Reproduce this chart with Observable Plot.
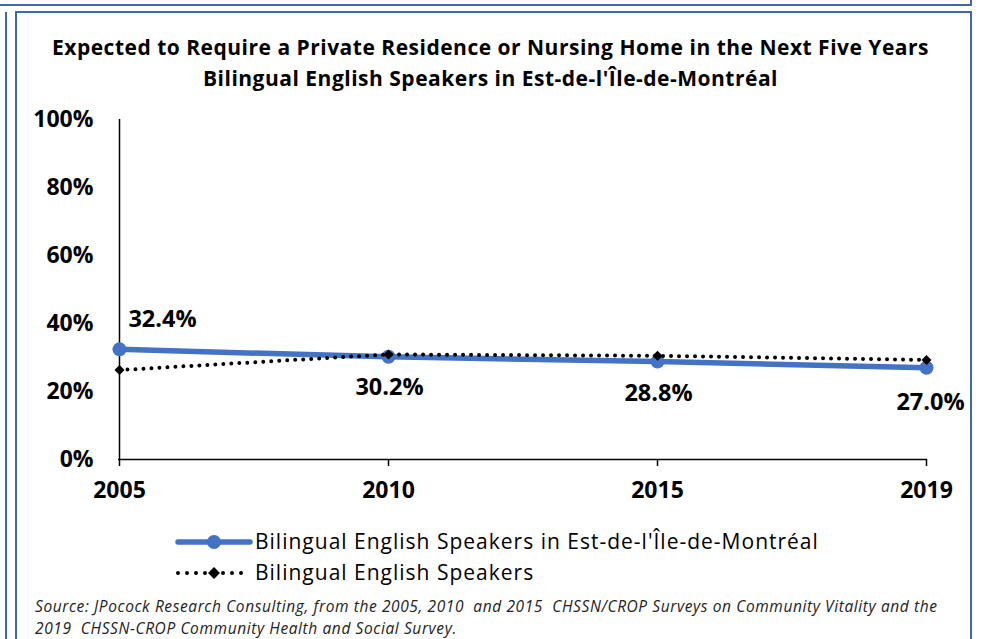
<!DOCTYPE html>
<html>
<head>
<meta charset="utf-8">
<script src="https://cdn.jsdelivr.net/npm/d3@7"></script>
<script src="https://cdn.jsdelivr.net/npm/@observablehq/plot@0.6"></script>
<style>
  html, body { margin: 0; padding: 0; background: #fff; }
  body { width: 981px; height: 639px; position: relative; overflow: hidden; font-family: "Open Sans", "Liberation Sans", sans-serif; color: #000; }
  .frame { position: absolute; border: 2px solid #4068b0; box-sizing: border-box; }
  #title { position: absolute; left: 0; width: 981px; top: 32px; text-align: center; font-weight: bold; font-size: 21px; letter-spacing: 0.5px; line-height: 31px; }
  #chart { position: absolute; left: 0; top: 100px; }
  #legend { position: absolute; left: 0; top: 522px; width: 981px; height: 70px; }
  #caption { position: absolute; left: 35px; top: 595px; font-style: italic; font-size: 15.5px; letter-spacing: 0.6px; line-height: 22px; color: #222; white-space: nowrap; }
</style>
</head>
<body>
<div class="frame" style="left:-10px; top:-20px; width:982px; height:26px;"></div>
<div class="frame" style="left:3px; top:12px; width:4px; height:640px; border-width:0 2px 0 0;"></div>
<div class="frame" style="left:15px; top:11px; width:957px; height:650px;"></div>
<div id="title">Expected to Require a Private Residence or Nursing Home in the Next Five Years<br>Bilingual English Speakers in Est-de-l'Île-de-Montréal</div>
<div id="chart"></div>
<div id="legend"></div>
<div id="caption">Source: JPocock Research Consulting, from the 2005, 2010 &nbsp;and 2015 &nbsp;CHSSN/CROP Surveys on Community Vitality and the<br>2019 &nbsp;CHSSN-CROP Community Health and Social Survey.</div>
<script>
const years = ["2005", "2010", "2015", "2019"];
const estValues = [32.4, 30.2, 28.8, 27.0];
const bilingualValues = [26.3, 30.9, 30.5, 29.3];
const yTicks = [0, 20, 40, 60, 80, 100];
const seriesNames = ["Bilingual English Speakers in Est-de-l'Île-de-Montréal", "Bilingual English Speakers"];

const est = years.map((y, i) => ({year: y, value: estValues[i]}));
const bil = years.map((y, i) => ({year: y, value: bilingualValues[i]}));

const blue = "#4472C4";
const labelOffsets = [[43, -30], [1, 31], [1, 32], [4, 35]];
const labelMarks = est.map((d, i) => Plot.text([d], {
  x: "year", y: "value", text: v => v.value.toFixed(1) + "%",
  dx: labelOffsets[i][0], dy: labelOffsets[i][1],
  fontSize: 23.5, fontWeight: "bold", fill: "#000"
}));

const plot = Plot.plot({
  width: 981,
  height: 410,
  marginTop: 19,
  marginBottom: 51,
  marginLeft: 118,
  marginRight: 54,
  style: {fontFamily: "'Open Sans', 'Liberation Sans', sans-serif", color: "#000", background: "transparent", overflow: "visible"},
  x: {type: "point", domain: years, padding: 0},
  y: {domain: [0, 100]},
  marks: [
    Plot.axisY({ticks: yTicks, tickFormat: d => d + "%", tickSize: 0, tickPadding: 25, fontSize: 23, fontWeight: "bold", label: null}),
    Plot.axisX({tickSize: 7, tickPadding: 15, fontSize: 23, fontWeight: "bold", label: null, stroke: "#000", strokeWidth: 1.5}),
    Plot.ruleY([0], {stroke: "#000", strokeWidth: 1.5}),
    Plot.ruleX([years[0]], {y1: 0, y2: 100, stroke: "#000", strokeWidth: 1.5}),
    Plot.line(est, {x: "year", y: "value", stroke: blue, strokeWidth: 5.5}),
    Plot.dot(est, {x: "year", y: "value", fill: blue, r: 7}),
    Plot.line(bil, {x: "year", y: "value", stroke: "#000", strokeWidth: 4, strokeDasharray: "0 8", strokeLinecap: "round"}),
    Plot.dot(bil, {x: "year", y: "value", fill: "#000", symbol: "diamond2", r: 4.5}),
    ...labelMarks
  ]
});
document.getElementById("chart").appendChild(plot);
</script>
<script>
// Legend
(function() {
  const svg = d3.select("#legend").append("svg").attr("width", 981).attr("height", 70);
  const x0 = 178, x1 = 250;
  svg.append("line").attr("x1", x0).attr("x2", x1).attr("y1", 20).attr("y2", 20).attr("stroke", blue).attr("stroke-width", 5.5).attr("stroke-linecap", "round");
  svg.append("circle").attr("cx", 214).attr("cy", 20).attr("r", 7).attr("fill", blue);
  svg.append("line").attr("x1", x0).attr("x2", x1).attr("y1", 51).attr("y2", 51).attr("stroke", "#000").attr("stroke-width", 4).attr("stroke-dasharray", "0 9").attr("stroke-linecap", "round");
  svg.append("path").attr("d", d3.symbol(d3.symbolDiamond2, 90)()).attr("transform", "translate(214,51)").attr("fill", "#000");
  svg.append("text").attr("x", 255).attr("y", 20).attr("dy", "0.35em").attr("font-size", 21).attr("letter-spacing", 1).text(seriesNames[0]);
  svg.append("text").attr("x", 255).attr("y", 51).attr("dy", "0.35em").attr("font-size", 21).attr("letter-spacing", 1).text(seriesNames[1]);
})();
</script>
</body>
</html>
